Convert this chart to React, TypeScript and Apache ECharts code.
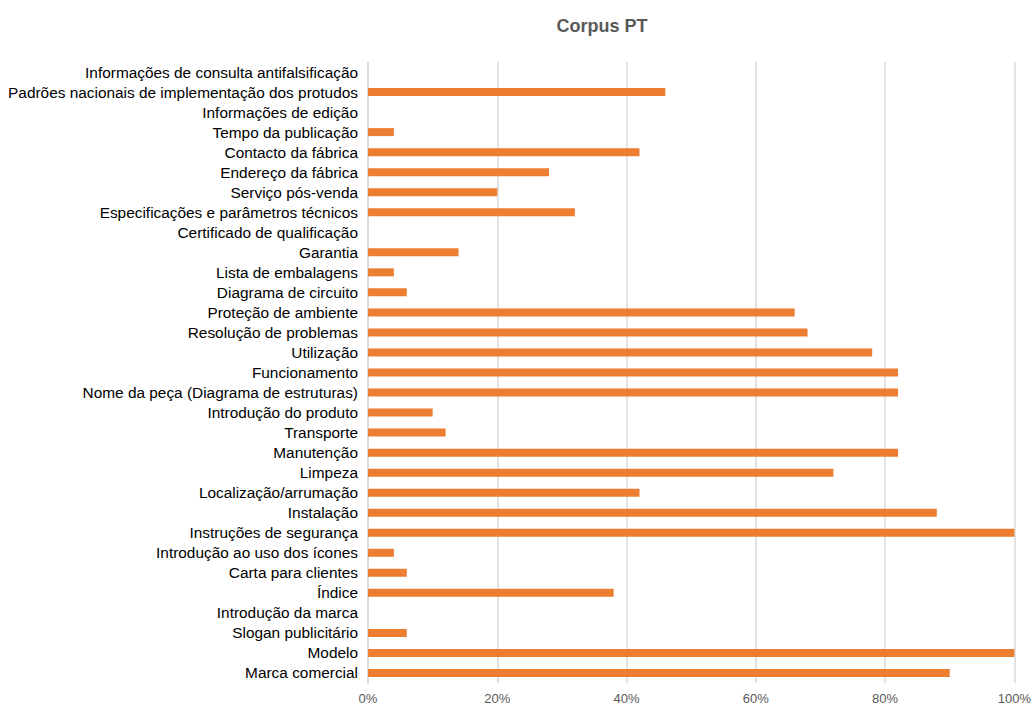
import React, { useEffect, useRef } from "react";
import * as echarts from "echarts";

// Categories listed top to bottom
const categories: string[] = [
  "Informações de consulta antifalsificação",
  "Padrões nacionais de implementação dos protudos",
  "Informações de edição",
  "Tempo da publicação",
  "Contacto da fábrica",
  "Endereço da fábrica",
  "Serviço pós-venda",
  "Especificações e parâmetros técnicos",
  "Certificado de qualificação",
  "Garantia",
  "Lista de embalagens",
  "Diagrama de circuito",
  "Proteção de ambiente",
  "Resolução de problemas",
  "Utilização",
  "Funcionamento",
  "Nome da peça (Diagrama de estruturas)",
  "Introdução do produto",
  "Transporte",
  "Manutenção",
  "Limpeza",
  "Localização/arrumação",
  "Instalação",
  "Instruções de segurança",
  "Introdução ao uso dos ícones",
  "Carta para clientes",
  "Índice",
  "Introdução da marca",
  "Slogan publicitário",
  "Modelo",
  "Marca comercial",
];

// Share of texts (%) containing each element
const values: number[] = [
  0, 46, 0, 4, 42, 28, 20, 32, 0, 14, 4, 6, 66, 68, 78, 82, 82, 10, 12, 82, 72,
  42, 88, 100, 4, 6, 38, 0, 6, 100, 90,
];

const xTicks: number[] = [0, 20, 40, 60, 80, 100];

const labelFont = "'Liberation Sans Narrow', 'Liberation Sans', sans-serif";

export default function App() {
  const ref = useRef<HTMLDivElement>(null);

  useEffect(() => {
    if (!ref.current) return;
    const chart = echarts.init(ref.current, undefined, { renderer: "svg" });
    chart.setOption({
      animation: false,
      backgroundColor: "#ffffff",
      title: {
        text: "Corpus PT",
        left: 597,
        top: 12,
        textAlign: "center",
        textStyle: {
          fontFamily: labelFont,
          fontSize: 18,
          fontWeight: "bold",
          color: "#595959",
        },
      },
      grid: { left: 368, right: 19, top: 62, bottom: 26, containLabel: false },
      xAxis: {
        type: "value",
        min: xTicks[0],
        max: xTicks[xTicks.length - 1],
        interval: 20,
        axisLine: { show: false },
        axisTick: { show: false },
        splitLine: { lineStyle: { color: "#d9d9d9", width: 1.5 } },
        axisLabel: {
          formatter: (v: number) => `${v}%`,
          color: "#595959",
          fontFamily: labelFont,
          fontSize: 13,
          margin: 9,
        },
      },
      yAxis: {
        type: "category",
        inverse: true,
        data: categories,
        axisLine: { show: true, lineStyle: { color: "#d9d9d9", width: 1.5 } },
        axisTick: { show: false },
        axisLabel: {
          color: "#000000",
          fontFamily: labelFont,
          fontSize: 15.4,
          margin: 10,
          interval: 0,
        },
      },
      series: [
        {
          type: "bar",
          data: values,
          barWidth: 8,
          itemStyle: { color: "#ED7D31" },
        },
      ],
    });
    return () => chart.dispose();
  }, []);

  return (
    <div
      ref={ref}
      style={{ position: "fixed", left: 0, top: 0, width: 1034, height: 709 }}
    />
  );
}
